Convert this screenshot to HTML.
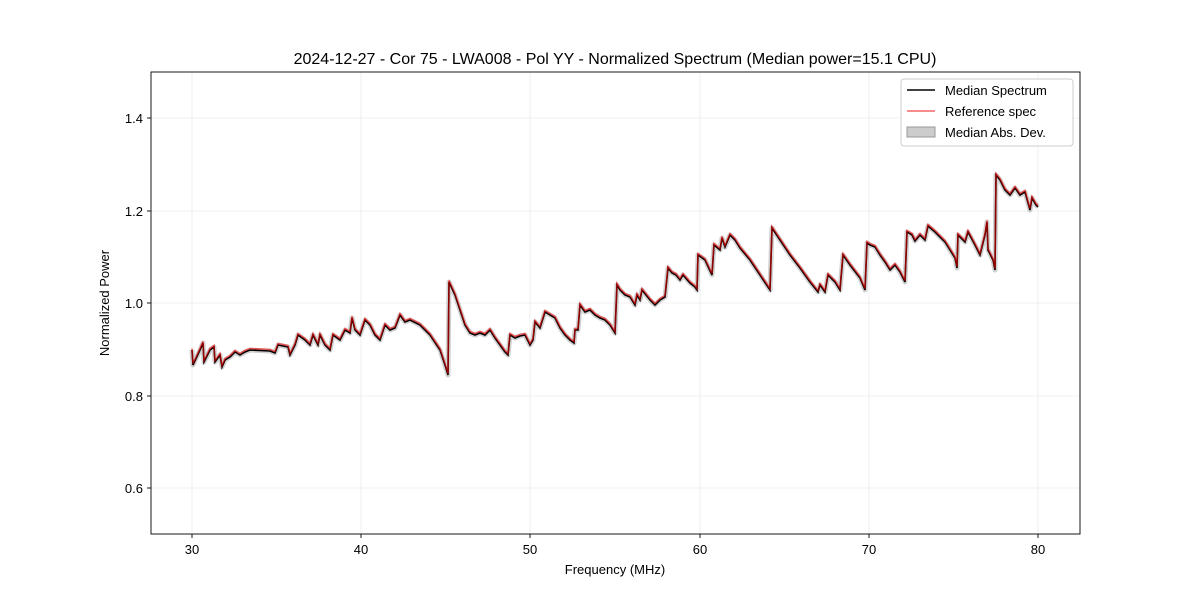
<!DOCTYPE html>
<html><head><meta charset="utf-8"><style>
body{margin:0;background:#fff}
text{font-family:"Liberation Sans","DejaVu Sans",sans-serif;fill:#000}
</style></head><body>
<svg width="1200" height="600" xmlns="http://www.w3.org/2000/svg">
<rect width="1200" height="600" fill="#fff"/>
<text x="615" y="64" font-size="16" text-anchor="middle">2024-12-27 - Cor 75 - LWA008 - Pol YY - Normalized Spectrum (Median power=15.1 CPU)</text>
<g stroke="#ebebeb" stroke-width="0.8">
<line x1="192" y1="72" x2="192" y2="534"/><line x1="361" y1="72" x2="361" y2="534"/><line x1="530" y1="72" x2="530" y2="534"/><line x1="700" y1="72" x2="700" y2="534"/><line x1="869" y1="72" x2="869" y2="534"/><line x1="1038" y1="72" x2="1038" y2="534"/>
<line x1="151" y1="118" x2="1080" y2="118"/><line x1="151" y1="211" x2="1080" y2="211"/><line x1="151" y1="303" x2="1080" y2="303"/><line x1="151" y1="396" x2="1080" y2="396"/><line x1="151" y1="488" x2="1080" y2="488"/>
</g>
<defs>
<polyline id="s" fill="none" points="192,350 193,365 200,350 203,343 204,362 210,350 214,347 215,362 220,355 222,367 225,360 230,357 235,352 240,355 245,352 250,350 270,351 275,353 278,345 288,347 290,355 295,345 298,335 305,340 310,345 313,335 318,345 320,335 325,345 330,350 333,335 340,340 345,330 350,333 352,318 355,330 360,335 365,320 370,325 375,335 380,340 385,325 390,330 395,328 400,315 405,322 410,320 420,325 425,330 430,335 440,350 445,365 448,375 449,282 455,295 460,310 465,325 470,333 475,335 480,333 485,335 490,330 495,338 500,345 505,352 508,355 510,335 515,338 520,336 525,335 530,345 533,340 535,322 540,328 545,312 550,315 555,318 560,328 565,335 570,340 574,343 575,330 578,330 580,305 585,312 590,310 595,315 600,318 605,320 610,325 615,333 617,285 620,290 625,295 630,297 635,305 637,295 640,300 642,290 650,300 655,305 660,300 665,297 668,268 672,273 676,275 680,280 683,275 690,283 695,287 697,290 698,255 705,260 712,275 714,245 720,250 722,238 725,247 730,235 735,240 740,248 750,260 760,275 770,290 772,228 780,240 790,255 800,268 810,282 818,292 820,285 825,292 828,275 835,282 840,290 843,255 850,265 860,278 865,290 867,243 870,245 875,247 880,255 885,262 890,270 895,265 900,272 905,282 907,232 912,235 915,241 920,235 925,240 928,226 935,232 945,242 950,250 955,258 957,268 958,235 965,242 968,232 975,245 980,255 985,235 987,222 988,250 993,260 995,270 996,175 1000,180 1005,190 1010,195 1015,188 1020,195 1025,192 1030,210 1032,198 1036,205 1038,207"/>
</defs>
<use href="#s" stroke="#999" stroke-opacity="0.45" stroke-width="5" stroke-linejoin="round"/>
<use href="#s" stroke="#000" stroke-width="1.6"/>
<use href="#s" stroke="#e00" stroke-opacity="0.6" stroke-width="1.6" transform="translate(0,-1.5)"/>
<rect x="151" y="72" width="929" height="462" fill="none" stroke="#000" stroke-width="0.9"/>
<g stroke="#000" stroke-width="0.9">
<line x1="192" y1="534" x2="192" y2="538"/><line x1="361" y1="534" x2="361" y2="538"/><line x1="530" y1="534" x2="530" y2="538"/><line x1="700" y1="534" x2="700" y2="538"/><line x1="869" y1="534" x2="869" y2="538"/><line x1="1038" y1="534" x2="1038" y2="538"/>
<line x1="147" y1="118" x2="151" y2="118"/><line x1="147" y1="211" x2="151" y2="211"/><line x1="147" y1="303" x2="151" y2="303"/><line x1="147" y1="396" x2="151" y2="396"/><line x1="147" y1="488" x2="151" y2="488"/>
</g>
<g font-size="13" text-anchor="middle">
<text x="192" y="554">30</text><text x="361" y="554">40</text><text x="530" y="554">50</text><text x="700" y="554">60</text><text x="869" y="554">70</text><text x="1038" y="554">80</text>
<text x="615" y="574">Frequency (MHz)</text>
</g>
<g font-size="13" text-anchor="end">
<text x="143" y="123">1.4</text><text x="143" y="216">1.2</text><text x="143" y="308">1.0</text><text x="143" y="401">0.8</text><text x="143" y="493">0.6</text>
</g>
<text transform="translate(109,303) rotate(-90)" font-size="13" text-anchor="middle">Normalized Power</text>
<rect x="901" y="79" width="172" height="67" rx="3" fill="#fff" fill-opacity="0.8" stroke="#ccc"/>
<line x1="907" y1="90" x2="935" y2="90" stroke="#000" stroke-width="1.6"/>
<line x1="907" y1="111" x2="935" y2="111" stroke="#e00" stroke-opacity="0.6" stroke-width="1.6"/>
<rect x="907" y="127" width="28" height="10" fill="#999" fill-opacity="0.5" stroke="#999"/>
<g font-size="13"><text x="945" y="95">Median Spectrum</text><text x="945" y="116">Reference spec</text><text x="945" y="137">Median Abs. Dev.</text></g>
</svg>
</body></html>
